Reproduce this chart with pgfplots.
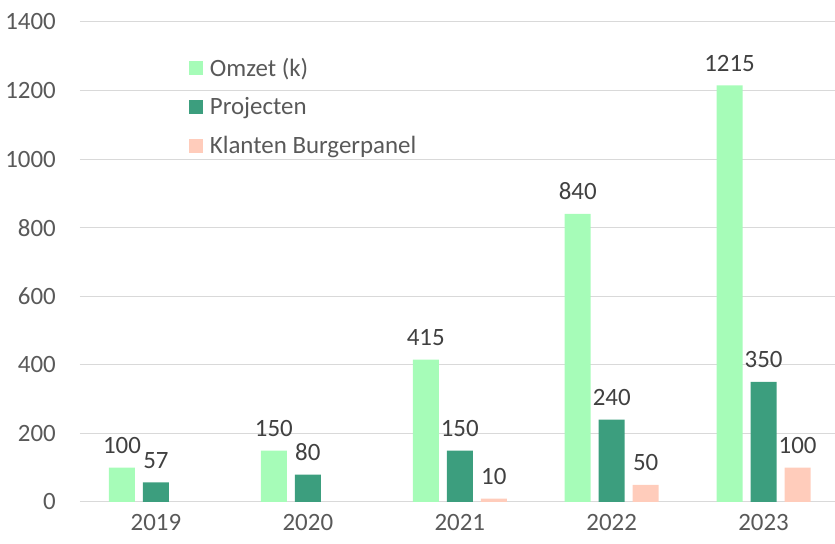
\documentclass[border=0pt]{standalone}
\usepackage{fontspec}
\setmainfont{Carlito}
\usepackage{pgfplots}
\pgfplotsset{compat=1.18}
\definecolor{omzet}{HTML}{A6FCB8}
\definecolor{proj}{HTML}{3C9E7E}
\definecolor{klant}{HTML}{FFCCBB}
\definecolor{gridc}{HTML}{D9D9D9}
\definecolor{tickc}{HTML}{595959}
\definecolor{labc}{HTML}{404040}
\begin{document}
\begin{tikzpicture}
\path[use as bounding box] (-80bp,-42bp) rectangle (755bp,502bp);
\begin{axis}[
  at={(0,0)}, anchor=south west,
  scale only axis, width=755bp, height=480bp,
  ybar=8bp, bar width=26bp,
  xmin=-0.5, xmax=4.47, ymin=0, ymax=1400,
  xtick={0,1,2,3,4}, xticklabels={2019,2020,2021,2022,2023},
  ytick={0,200,...,1400},
  ymajorgrids, grid style={gridc, line width=1bp},
  axis lines*=left,
  x axis line style={gridc, line width=1bp, -},
  y axis line style={draw=none},
  major tick length=0pt,
  tick label style={font=\fontsize{25}{29}\selectfont, text=tickc},
  /pgf/number format/assume math mode=true,
  /pgf/number format/1000 sep={},
  xticklabel style={anchor=north, inner sep=0pt, yshift=-12bp},
  yticklabel style={anchor=east, inner sep=0pt, xshift=-24bp},
  nodes near coords,
  every node near coord/.append style={font=\fontsize{25}{29}\selectfont, text=labc, anchor=south, inner sep=0pt, yshift=14bp},
  legend style={at={(0.14,0.93)}, anchor=north west, draw=none, fill=none,
    font=\fontsize{25}{29}\selectfont, text=tickc, row sep=20bp,
    nodes={inner sep=0pt, anchor=west}},
  legend cell align=left,
  legend image code/.code={\fill[#1] (0bp,-7bp) rectangle (14bp,7bp);},
  legend style={/tikz/every even column/.append style={column sep=0bp}},
]
\addplot[fill=omzet, draw=none] coordinates {(0,100) (1,150) (2,415) (3,840) (4,1215)};
\addlegendentry{\hspace{7bp}Omzet (k)}
\addplot[fill=proj, draw=none] coordinates {(0,57) (1,80) (2,150) (3,240) (4,350)};
\addlegendentry{\hspace{7bp}Projecten}
\addplot[fill=klant, draw=none] coordinates {(2,10) (3,50) (4,100)};
\addlegendentry{\hspace{7bp}Klanten Burgerpanel}
\end{axis}
\end{tikzpicture}
\end{document}
